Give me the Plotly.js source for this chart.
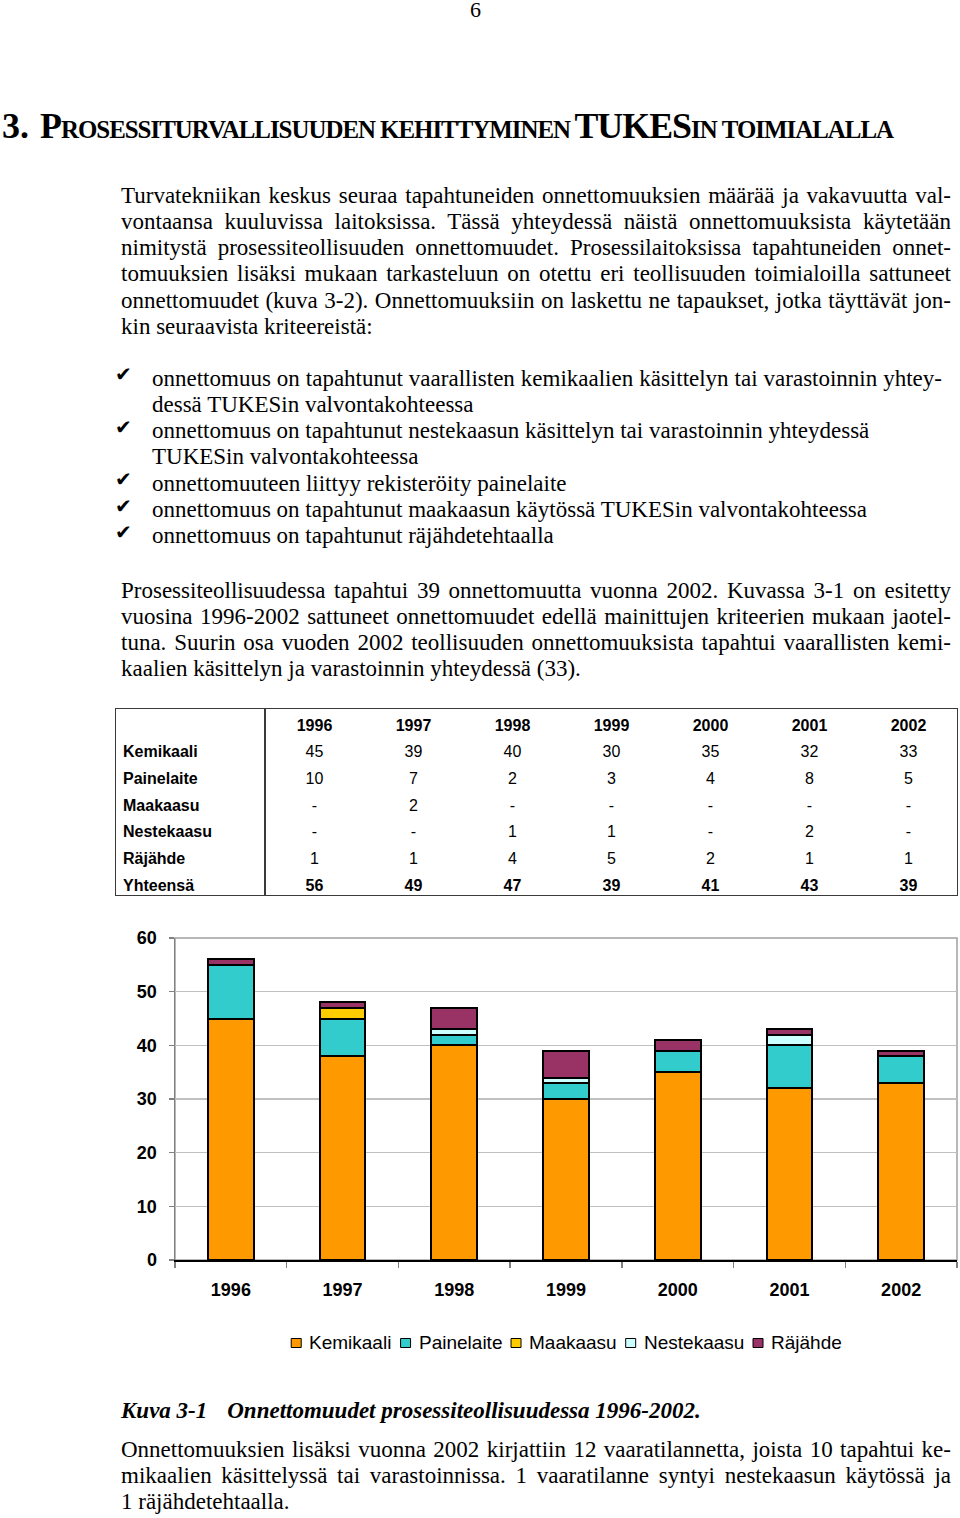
<!DOCTYPE html>
<html><head><meta charset="utf-8">
<script src="https://cdn.plot.ly/plotly-3.0.1.min.js"></script>
<style>
html,body{margin:0;padding:0;background:#fff}
body{width:960px;height:1518px;position:relative;overflow:hidden;font-family:"Liberation Serif","Times New Roman",serif;color:#000}
.abs{position:absolute;white-space:nowrap}
.txt{font-size:23px;line-height:26.3px}
.ln{display:block;white-space:nowrap}
.j{text-align:justify;text-align-last:justify;white-space:normal}
.tc{position:absolute;font-family:"Liberation Sans",Arial,sans-serif;font-size:16px;line-height:26.67px;height:26.67px;white-space:nowrap}
.chk{position:absolute;left:115px;font-family:"DejaVu Sans",sans-serif;font-size:20px;line-height:26.3px}
</style></head><body>

<div class="abs" style="left:470px;top:-1px;font-size:22px;line-height:22px;">6</div>

<div class="abs" style="left:2px;top:108px;font-size:36px;line-height:36px;font-weight:bold;">3.</div>
<div class="abs" id="head" style="left:40px;top:108px;font-size:36px;line-height:36px;font-weight:bold;font-variant:small-caps;transform-origin:0 0;letter-spacing:-1px;word-spacing:-3px;">Prosessiturvallisuuden kehittyminen TUKESin toimialalla</div>

<div class="abs txt" style="left:121px;top:182.5px;width:830px;white-space:normal;">
<span class="ln j">Turvatekniikan keskus seuraa tapahtuneiden onnettomuuksien määrää ja vakavuutta val-</span>
<span class="ln j">vontaansa kuuluvissa laitoksissa. Tässä yhteydessä näistä onnettomuuksista käytetään</span>
<span class="ln j">nimitystä prosessiteollisuuden onnettomuudet. Prosessilaitoksissa tapahtuneiden onnet-</span>
<span class="ln j">tomuuksien lisäksi mukaan tarkasteluun on otettu eri teollisuuden toimialoilla sattuneet</span>
<span class="ln j">onnettomuudet (kuva 3-2). Onnettomuuksiin on laskettu ne tapaukset, jotka täyttävät jon-</span>
<span class="ln">kin seuraavista kriteereistä:</span>
</div>

<div class="chk" style="top:361px;">✔</div>
<div class="chk" style="top:413.6px;">✔</div>
<div class="chk" style="top:466.2px;">✔</div>
<div class="chk" style="top:492.5px;">✔</div>
<div class="chk" style="top:518.8px;">✔</div>
<div class="abs txt" style="left:152px;top:365.5px;width:790px;white-space:normal;">
<span class="ln j">onnettomuus on tapahtunut vaarallisten kemikaalien käsittelyn tai varastoinnin yhtey-</span>
<span class="ln">dessä TUKESin valvontakohteessa</span>
<span class="ln">onnettomuus on tapahtunut nestekaasun käsittelyn tai varastoinnin yhteydessä</span>
<span class="ln">TUKESin valvontakohteessa</span>
<span class="ln">onnettomuuteen liittyy rekisteröity painelaite</span>
<span class="ln">onnettomuus on tapahtunut maakaasun käytössä TUKESin valvontakohteessa</span>
<span class="ln">onnettomuus on tapahtunut räjähdetehtaalla</span>
</div>

<div class="abs txt" style="left:121px;top:577.5px;width:830px;white-space:normal;">
<span class="ln j">Prosessiteollisuudessa tapahtui 39 onnettomuutta vuonna 2002. Kuvassa 3-1 on esitetty</span>
<span class="ln j">vuosina 1996-2002 sattuneet onnettomuudet edellä mainittujen kriteerien mukaan jaotel-</span>
<span class="ln j">tuna. Suurin osa vuoden 2002 teollisuuden onnettomuuksista tapahtui vaarallisten kemi-</span>
<span class="ln">kaalien käsittelyn ja varastoinnin yhteydessä (33).</span>
</div>

<div id="table" style="position:absolute;left:115px;top:708px;width:843px;height:188px;box-sizing:border-box;border:1.5px solid #3a3a3a;"></div>
<div style="position:absolute;left:264px;top:708px;width:1.5px;height:188px;background:#3a3a3a;"></div>
<div id="cells"></div>

<div id="chart" style="position:absolute;left:0;top:900px;width:960px;height:470px;"></div>

<div class="abs txt" style="left:121px;top:1397.5px;font-weight:bold;font-style:italic;">Kuva 3-1<span style="display:inline-block;width:20px"></span>Onnettomuudet prosessiteollisuudessa 1996-2002.</div>

<div class="abs txt" style="left:121px;top:1436.5px;width:830px;white-space:normal;">
<span class="ln j">Onnettomuuksien lisäksi vuonna 2002 kirjattiin 12 vaaratilannetta, joista 10 tapahtui ke-</span>
<span class="ln j">mikaalien käsittelyssä tai varastoinnissa. 1 vaaratilanne syntyi nestekaasun käytössä ja</span>
<span class="ln">1 räjähdetehtaalla.</span>
</div>

<script>
// ---- data ----
const years = ['1996', '1997', '1998', '1999', '2000', '2001', '2002'];
const seriesNames = ['Kemikaali', 'Painelaite', 'Maakaasu', 'Nestekaasu', 'Räjähde'];
// table values (null = "-")
const kemikaali  = [45, 39, 40, 30, 35, 32, 33];
const painelaite = [10, 7, 2, 3, 4, 8, 5];
const maakaasu   = [null, 2, null, null, null, null, null];
const nestekaasu = [null, null, 1, 1, null, 2, null];
const rajahde    = [1, 1, 4, 5, 2, 1, 1];
const yhteensa   = [56, 49, 47, 39, 41, 43, 39];
// values as drawn in the chart (the 1997 Kemikaali bar reaches 38)
const chartKemikaali  = [45, 38, 40, 30, 35, 32, 33];
const chartPainelaite = [10, 7, 2, 3, 4, 8, 5];
const chartMaakaasu   = [null, 2, null, null, null, null, null];
const chartNestekaasu = [null, null, 1, 1, null, 2, null];
const chartRajahde    = [1, 1, 4, 5, 2, 1, 1];
const yTicks = [0, 10, 20, 30, 40, 50, 60];

// ---- heading fit ----
(function(){
  const h = document.getElementById('head');
  const w = h.getBoundingClientRect().width;
  h.style.transform = 'scaleX(' + (853 / w) + ')';
})();

// ---- table ----
(function(){
  const cells = document.getElementById('cells');
  const rows = [
    {label: '', vals: years, bold: true},
    {label: seriesNames[0], vals: kemikaali},
    {label: seriesNames[1], vals: painelaite},
    {label: seriesNames[2], vals: maakaasu},
    {label: seriesNames[3], vals: nestekaasu},
    {label: seriesNames[4], vals: rajahde},
    {label: 'Yhteensä', vals: yhteensa, bold: true}
  ];
  rows.forEach((r, i) => {
    const top = 712.7 + i * 26.67;
    const lab = document.createElement('div');
    lab.className = 'tc';
    lab.style.left = '123px'; lab.style.top = top + 'px'; lab.style.fontWeight = 'bold';
    lab.textContent = r.label;
    cells.appendChild(lab);
    r.vals.forEach((v, c) => {
      const d = document.createElement('div');
      d.className = 'tc';
      d.style.left = (265 + c * 99) + 'px'; d.style.width = '99px'; d.style.textAlign = 'center';
      d.style.top = top + 'px';
      if (r.bold) d.style.fontWeight = 'bold';
      d.textContent = (v === null ? '-' : String(v));
      cells.appendChild(d);
    });
  });
})();

// ---- chart ----
const colors = ['#FF9900', '#33CCCC', '#FFCC00', '#CCFFFF', '#993366'];
const chartSeries = [chartKemikaali, chartPainelaite, chartMaakaasu, chartNestekaasu, chartRajahde];
const traces = chartSeries.map((vals, i) => ({
  type: 'bar', name: seriesNames[i], x: years, y: vals,
  marker: {color: colors[i], line: {color: '#000', width: 2}},
  hoverinfo: 'skip', showlegend: false
}));
const fontFam = '"Liberation Sans", Arial, sans-serif';
const M = {l: 175, r: 3, t: 38, b: 110};
const W = 960, H = 470;
const plotW = W - M.l - M.r, plotH = H - M.t - M.b;

// compact legend (square + label), laid out from measured label widths
const legendFontSize = 19;
const ctx = document.createElement('canvas').getContext('2d');
ctx.font = legendFontSize + 'px "Liberation Sans", Arial, sans-serif';
const sq = 10, sqGap = 7, itemGap = 10;
const widths = seriesNames.map(n => ctx.measureText(n).width);
const total = widths.reduce((a, w) => a + sq + sqGap + w, 0) + itemGap * (seriesNames.length - 1);
let cx = M.l + plotW / 2 - total / 2;
const legY = -83 / plotH;
const legShapes = [], legAnns = [];
seriesNames.forEach((n, i) => {
  legShapes.push({type: 'rect', xref: 'paper', yref: 'paper',
    x0: (cx - M.l) / plotW, x1: (cx + sq - M.l) / plotW,
    y0: legY - 4.5 / plotH, y1: legY + 4.5 / plotH,
    fillcolor: colors[i], line: {color: '#000', width: 1}});
  legAnns.push({xref: 'paper', yref: 'paper', x: (cx + sq + sqGap - M.l) / plotW, y: legY,
    xanchor: 'left', yanchor: 'middle', showarrow: false, text: n,
    font: {family: fontFam, size: legendFontSize, color: '#000'}, borderpad: 0});
  cx += sq + sqGap + widths[i] + itemGap;
});

const layout = {
  width: W, height: H, margin: M,
  barmode: 'stack', bargap: 0.59,
  paper_bgcolor: 'rgba(0,0,0,0)', plot_bgcolor: '#fff',
  font: {family: fontFam, color: '#000'},
  showlegend: false,
  xaxis: {type: 'category', showline: true, linecolor: '#000', linewidth: 1.5,
          ticks: 'outside', tickson: 'boundaries', ticklen: 6, tickcolor: '#808080', tickwidth: 1.5,
          tickfont: {family: fontFam, size: 18, weight: 'bold', color: '#000'},
          ticklabelstandoff: 13, showgrid: false, zeroline: false, fixedrange: true},
  yaxis: {range: [0, 60], tickvals: yTicks, showgrid: true, gridcolor: '#C0C0C0', gridwidth: 1.5,
          showline: true, linecolor: '#808080', linewidth: 1.5, zeroline: false,
          ticks: 'outside', ticklen: 5, tickcolor: '#808080', tickwidth: 1.5,
          tickfont: {family: fontFam, size: 18, weight: 'bold', color: '#000'},
          ticklabelstandoff: 8, fixedrange: true},
  shapes: [{type: 'rect', xref: 'paper', yref: 'paper', x0: 0, x1: 1, y0: 0, y1: 1,
            line: {color: '#A0A0A0', width: 1.5}, layer: 'below'}].concat(legShapes),
  annotations: legAnns
};
Plotly.newPlot('chart', traces, layout, {displayModeBar: false, staticPlot: true});
</script>
</body></html>
